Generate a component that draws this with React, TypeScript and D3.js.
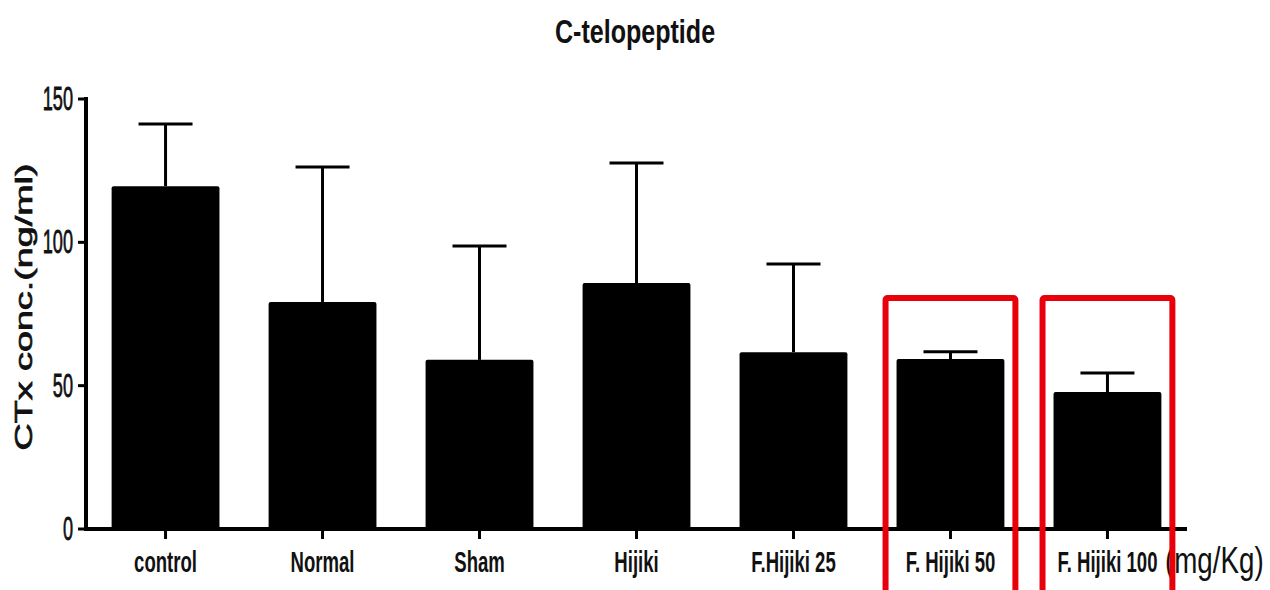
import React from "react";
import * as d3 from "d3";

const categories = ["control", "Normal", "Sham", "Hijiki", "F.Hijiki 25", "F. Hijiki 50", "F. Hijiki 100"];
const means = [119.6, 79.2, 59.0, 85.8, 61.7, 59.3, 47.8];
const upperErr = [141.3, 126.3, 98.7, 127.7, 92.4, 61.8, 54.4];
const yTicks = [0, 50, 100, 150];
const highlighted = ["F. Hijiki 50", "F. Hijiki 100"];

const W = 1270;
const H = 590;
const SANS = "'Liberation Sans', Arial, sans-serif";

// Condensed text: draw normally, then squeeze horizontally about the anchor point.
function NarrowText(props: {
  x: number;
  y: number;
  sx: number;
  size: number;
  anchor?: "start" | "middle" | "end";
  bold?: boolean;
  thicken?: number;
  children: React.ReactNode;
}) {
  const { x, y, sx, size, anchor = "start", bold = false, thicken = 0, children } = props;
  return (
    <g transform={`translate(${x},${y}) scale(${sx},1)`}>
      <text
        x={0}
        y={0}
        textAnchor={anchor}
        fontFamily={SANS}
        fontWeight={bold ? "bold" : "normal"}
        fontSize={size}
        fill="#111"
        stroke={thicken > 0 ? "#111" : "none"}
        strokeWidth={thicken}
      >
        {children}
      </text>
    </g>
  );
}

export default function App() {
  const axisX = 86;
  const x = d3.scaleBand<string>().domain(categories).range([86.5, 1186.5]).paddingInner(0.313).paddingOuter(0.16);
  const y = d3.scaleLinear().domain([0, 150]).range([529, 99]);
  const bw = x.bandwidth();
  const capHalf = 27;

  return (
    <svg width={W} height={H} style={{ position: "absolute", left: 0, top: 0, background: "#fff" }}>
      <NarrowText x={635} y={43} sx={0.76} size={33} anchor="middle" bold>
        C-telopeptide
      </NarrowText>

      {/* y axis title */}
      <text
        transform="translate(32,307) rotate(-90)"
        textAnchor="middle"
        fontFamily={SANS}
        fontSize={24}
        fill="#111"
        stroke="#111"
        strokeWidth={0.7}
        textLength={287}
        lengthAdjust="spacingAndGlyphs"
      >
        CTx conc.(ng/ml)
      </text>

      {/* error bars */}
      {categories.map((c, i) => {
        const cx = (x(c) as number) + bw / 2;
        return (
          <g key={"e" + c} stroke="#000" strokeWidth={3}>
            <line x1={cx} x2={cx} y1={y(means[i])} y2={y(upperErr[i])} />
            <line x1={cx - capHalf} x2={cx + capHalf} y1={y(upperErr[i])} y2={y(upperErr[i])} />
          </g>
        );
      })}

      {/* bars */}
      {categories.map((c, i) => (
        <rect key={"b" + c} x={x(c)} y={y(means[i])} width={bw} height={y(0) - y(means[i])} fill="#000" rx={2} />
      ))}

      {/* y axis */}
      <line x1={axisX} x2={axisX} y1={y(150) - 2} y2={y(0) + 2} stroke="#000" strokeWidth={4} />
      {yTicks.map((t) => (
        <g key={"yt" + t}>
          <line x1={axisX - 8} x2={axisX} y1={y(t)} y2={y(t)} stroke="#000" strokeWidth={3} />
          <NarrowText x={axisX - 13} y={y(t) + 11} sx={0.55} size={33} anchor="end" thicken={0.8}>
            {t}
          </NarrowText>
        </g>
      ))}

      {/* x axis */}
      <line x1={axisX - 2} x2={1187} y1={y(0)} y2={y(0)} stroke="#000" strokeWidth={4} />
      {categories.map((c) => {
        const cx = (x(c) as number) + bw / 2;
        return (
          <g key={"xt" + c}>
            <line x1={cx} x2={cx} y1={y(0)} y2={y(0) + 10} stroke="#000" strokeWidth={3} />
            <NarrowText x={cx} y={572} sx={0.64} size={29} anchor="middle" bold>
              {c}
            </NarrowText>
          </g>
        );
      })}
      <NarrowText x={1165} y={573} sx={0.75} size={37}>
        (mg/Kg)
      </NarrowText>

      {/* highlight frames */}
      {highlighted.map((c) => {
        const bx = x(c) as number;
        return (
          <rect
            key={"h" + c}
            x={bx - 11}
            y={298}
            width={bw + 22}
            height={300}
            fill="none"
            stroke="#e8000b"
            strokeWidth={6}
            rx={2}
          />
        );
      })}
    </svg>
  );
}
